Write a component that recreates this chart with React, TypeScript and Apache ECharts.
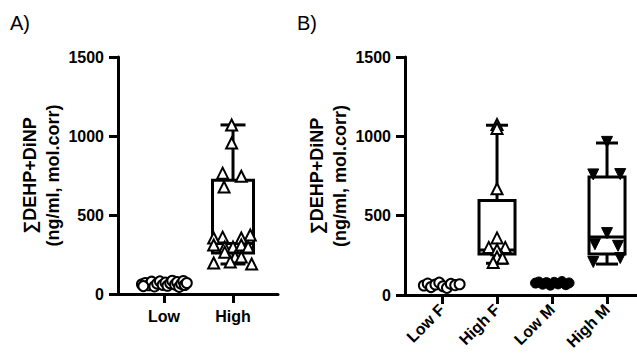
import React, { useEffect, useRef } from "react";
import * as echarts from "echarts";

// ---------- categories & ticks ----------
const groupsA = ["Low", "High"];
const groupsB = ["Low F", "High F", "Low M", "High M"];
const yTicks = [0, 500, 1000, 1500];
const yName = "∑DEHP+DiNP\n(ng/ml, mol.corr)";

// ---------- Panel A ----------
const lowAValues = [62, 70, 55, 78, 48, 66, 80, 58, 72, 52, 68, 84, 60, 75, 45, 64, 82, 57, 70, 50];
const lowAJitter = [-0.32, -0.27, -0.22, -0.18, -0.14, -0.1, -0.06, -0.02, 0.02, 0.05, 0.09, 0.12, 0.16, 0.19, 0.22, 0.25, 0.28, 0.3, 0.33, -0.3];
const highAValues = [1070, 955, 765, 745, 677, 373, 360, 354, 354, 310, 297, 297, 310, 297, 265, 234, 234, 196, 203, 190];
const highAJitter = [-0.02, -0.02, -0.15, 0.12, -0.13, 0.25, -0.15, -0.28, 0.12, -0.28, -0.12, 0.0, 0.12, 0.22, -0.12, 0.03, 0.12, -0.28, -0.04, 0.27];
// min, Q1, median, Q3, max
const highABox = [190, 260, 320, 720, 1070];

// ---------- Panel B ----------
const lowFValues = [60, 72, 50, 66, 78, 55, 45, 70, 62, 68];
const lowFJitter = [-0.33, -0.26, -0.2, -0.12, -0.05, 0.02, 0.09, 0.16, 0.24, 0.32];
const highFValues = [1075, 1050, 670, 360, 300, 300, 285, 240, 233, 205];
const highFJitter = [0, 0, 0, 0, -0.15, 0.15, 0, 0, 0.1, -0.07];
const highFBox = [200, 258, 283, 595, 1070];
const lowMValues = [75, 82, 68, 78, 62, 80, 70, 85, 65, 76];
const lowMJitter = [-0.3, -0.24, -0.17, -0.1, -0.03, 0.04, 0.11, 0.18, 0.25, 0.31];
const highMValues = [965, 760, 762, 390, 320, 310, 233, 208];
const highMJitter = [0, -0.25, 0.24, 0, -0.22, 0.2, 0.24, -0.25];
const highMBox = [195, 258, 365, 743, 958];

const FONT = "Liberation Sans";

const pts = (idx: number, vals: number[], jit: number[]) =>
  vals.map((v, i) => [idx + jit[i], v]);

const boxRender = (boxW: number, capW: number) => (params: any, api: any) => {
  const x = api.value(0);
  const mn = api.coord([x, api.value(1)]);
  const q1 = api.coord([x, api.value(2)]);
  const md = api.coord([x, api.value(3)]);
  const q3 = api.coord([x, api.value(4)]);
  const mx = api.coord([x, api.value(5)]);
  const cx = mn[0];
  const h = boxW / 2;
  const c = capW / 2;
  const st = { stroke: "#000", lineWidth: 3, fill: null };
  return {
    type: "group",
    children: [
      { type: "line", shape: { x1: cx, y1: mx[1], x2: cx, y2: q3[1] }, style: st },
      { type: "line", shape: { x1: cx, y1: mn[1], x2: cx, y2: q1[1] }, style: st },
      { type: "line", shape: { x1: cx - c, y1: mx[1], x2: cx + c, y2: mx[1] }, style: st },
      { type: "line", shape: { x1: cx - c, y1: mn[1], x2: cx + c, y2: mn[1] }, style: st },
      {
        type: "rect",
        shape: { x: cx - h, y: q3[1], width: boxW, height: q1[1] - q3[1] },
        style: { stroke: "#000", lineWidth: 3, fill: "rgba(0,0,0,0)" },
      },
      { type: "line", shape: { x1: cx - h, y1: md[1], x2: cx + h, y2: md[1] }, style: st },
    ],
  };
};

const axisLineStyle = { color: "#000", width: 3, opacity: 1 };

const yAxisCfg = (gridIndex: number) => ({
  gridIndex,
  type: "value",
  min: yTicks[0],
  max: yTicks[yTicks.length - 1],
  interval: yTicks[1] - yTicks[0],
  name: yName,
  nameLocation: "middle",
  nameGap: 54,
  nameRotate: 90,
  nameMoveOverlap: false,
  nameTextStyle: { fontFamily: FONT, fontSize: 18, fontWeight: "bold", color: "#000", lineHeight: 23, align: "center" },
  axisLine: { show: true, onZero: false, lineStyle: axisLineStyle },
  axisTick: { show: true, length: 9, lineStyle: axisLineStyle },
  axisLabel: { fontFamily: FONT, fontSize: 16, fontWeight: "bold", color: "#000", margin: 14, formatter: (v: number) => String(v) },
  splitLine: { show: false },
});

const App = () => {
  const ref = useRef<HTMLDivElement>(null);
  useEffect(() => {
    if (!ref.current) return;
    const chart = echarts.init(ref.current, null, { renderer: "svg" });
    const labelStyle = { fontFamily: FONT, fontSize: 16, fontWeight: "bold", color: "#000" };
    const openSym = { color: "#fff", borderColor: "#000", borderWidth: 2, opacity: 1 };
    const filledSym = { color: "#000", borderColor: "#000", borderWidth: 1, opacity: 1 };
    chart.setOption({
      animation: false,
      backgroundColor: "#fff",
      title: [
        { text: "A)", left: 10, top: 13, padding: 0, textStyle: { fontFamily: FONT, fontSize: 20, fontWeight: "normal", color: "#000" } },
        { text: "B)", left: 297, top: 13, padding: 0, textStyle: { fontFamily: FONT, fontSize: 20, fontWeight: "normal", color: "#000" } },
      ],
      grid: [
        { left: 118, width: 160, top: 57, height: 237, outerBoundsMode: "none" },
        { left: 405, right: 0, top: 57, height: 238, outerBoundsMode: "none" },
      ],
      xAxis: [
        {
          gridIndex: 0,
          type: "value",
          min: -0.667,
          max: 1.652,
          axisLine: { show: true, onZero: false, lineStyle: axisLineStyle },
          axisTick: { show: true, customValues: [0, 1], length: 9, lineStyle: axisLineStyle },
          axisLabel: { ...labelStyle, customValues: [0, 1], margin: 14, formatter: (v: number) => groupsA[Math.round(v)] },
          splitLine: { show: false },
        },
        {
          gridIndex: 1,
          type: "value",
          min: -0.673,
          max: 3.545,
          axisLine: { show: true, onZero: false, lineStyle: axisLineStyle },
          axisTick: { show: true, customValues: [0, 1, 2, 3], length: 9, lineStyle: axisLineStyle },
          axisLabel: { ...labelStyle, customValues: [0, 1, 2, 3], rotate: 45, margin: 12, formatter: (v: number) => groupsB[Math.round(v)] },
          splitLine: { show: false },
        },
      ],
      yAxis: [yAxisCfg(0), yAxisCfg(1)],
      series: [
        {
          type: "custom",
          xAxisIndex: 0,
          yAxisIndex: 0,
          renderItem: boxRender(41, 25),
          encode: { x: 0, y: [1, 2, 3, 4, 5] },
          data: [[1, ...highABox]],
          z: 2,
        },
        {
          type: "custom",
          xAxisIndex: 1,
          yAxisIndex: 1,
          renderItem: boxRender(36, 22),
          encode: { x: 0, y: [1, 2, 3, 4, 5] },
          data: [[1, ...highFBox], [3, ...highMBox]],
          z: 2,
        },
        { type: "scatter", xAxisIndex: 0, yAxisIndex: 0, symbol: "circle", symbolSize: 10, itemStyle: openSym, data: pts(0, lowAValues, lowAJitter), z: 3 },
        { type: "scatter", xAxisIndex: 0, yAxisIndex: 0, symbol: "triangle", symbolSize: 11, itemStyle: openSym, data: pts(1, highAValues, highAJitter), z: 3 },
        { type: "scatter", xAxisIndex: 1, yAxisIndex: 1, symbol: "circle", symbolSize: 10, itemStyle: openSym, data: pts(0, lowFValues, lowFJitter), z: 3 },
        { type: "scatter", xAxisIndex: 1, yAxisIndex: 1, symbol: "triangle", symbolSize: 11, itemStyle: openSym, data: pts(1, highFValues, highFJitter), z: 3 },
        { type: "scatter", xAxisIndex: 1, yAxisIndex: 1, symbol: "circle", symbolSize: 10, itemStyle: filledSym, data: pts(2, lowMValues, lowMJitter), z: 3 },
        { type: "scatter", xAxisIndex: 1, yAxisIndex: 1, symbol: "triangle", symbolRotate: 180, symbolSize: 11, itemStyle: filledSym, data: pts(3, highMValues, highMJitter), z: 3 },
      ],
    });
    return () => chart.dispose();
  }, []);
  return <div ref={ref} style={{ position: "fixed", left: 0, top: 0, width: 637, height: 361 }} />;
};

export default App;
